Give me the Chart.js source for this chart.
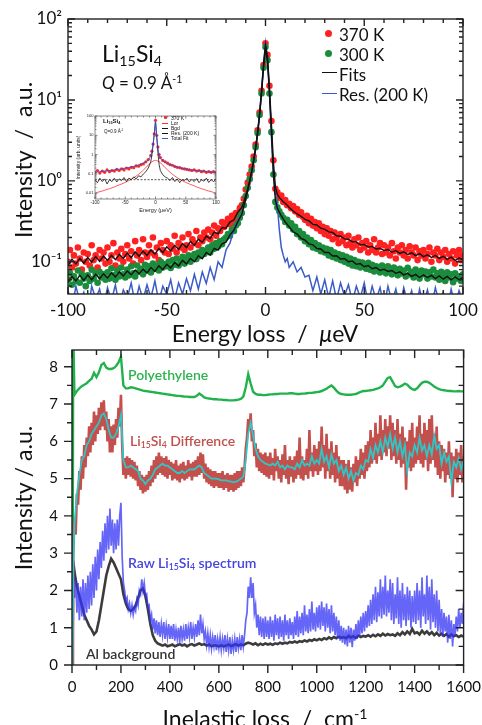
<!DOCTYPE html>
<html>
<head>
<meta charset="utf-8">
<script src="https://cdn.jsdelivr.net/npm/chart.js@4.4.0/dist/chart.umd.min.js"></script>
<style>
  body { margin: 0; background: #fff; }
  #wrap { position: relative; width: 482px; height: 725px; overflow: hidden; font-family: Lato, "Open Sans", sans-serif; color: #111; }
  canvas { position: absolute; }
  .t { position: absolute; white-space: pre; line-height: 1; transform: translate(0, -50%); }
  .c { transform: translate(-50%, -50%); }
  .r { transform: translate(-50%, -50%) rotate(-90deg); }
  sub { font-size: 0.62em; vertical-align: baseline; position: relative; top: 0.28em; }
  sup { font-size: 0.62em; vertical-align: baseline; position: relative; top: -0.55em; }
  .dot { position: absolute; border-radius: 50%; }
  .dash { position: absolute; height: 0; }
</style>
</head>
<body>
<div id="wrap">
  <canvas id="topChart" width="484" height="345" style="left:0;top:0"></canvas>
  <canvas id="insetChart" width="146" height="104" style="left:76px;top:110px"></canvas>
  <canvas id="bottomChart" width="494" height="399" style="left:0;top:326px"></canvas>

  <!-- top panel text -->
  <div class="t" style="left:102px;top:53px;font-size:23px">Li<sub>15</sub>Si<sub>4</sub></div>
  <div class="t" style="left:102px;top:82px;font-size:17px"><i>Q</i> = 0.9 Å<sup>-1</sup></div>
  <div class="dot" style="left:325px;top:30px;width:7px;height:7px;background:#ff2020"></div>
  <div class="t" style="left:339px;top:34px;font-size:17px">370 K</div>
  <div class="dot" style="left:325px;top:50px;width:7px;height:7px;background:#1a8c3c"></div>
  <div class="t" style="left:339px;top:54px;font-size:17px">300 K</div>
  <div class="dash" style="left:322px;top:72px;width:15px;border-top:1.5px solid #111"></div>
  <div class="t" style="left:339px;top:74px;font-size:17px">Fits</div>
  <div class="dash" style="left:322px;top:93px;width:15px;border-top:1.5px solid #3b5cc8"></div>
  <div class="t" style="left:339px;top:94px;font-size:17px">Res. (200 K)</div>
  <div class="t r" style="left:23px;top:160px;font-size:23px">Intensity  /  a.u.</div>
  <div class="t c" style="left:265px;top:333px;font-size:23px">Energy loss  /  <i>μ</i>eV</div>

  <!-- inset text -->
  <div class="t" style="left:103px;top:121px;font-size:6px;font-weight:700;font-family:'Liberation Sans'">Li<sub>15</sub>Si<sub>4</sub></div>
  <div class="t" style="left:104px;top:132px;font-size:4.5px;font-family:'Liberation Sans'">Q=0.9 Å<sup>-1</sup></div>
  <div class="dot" style="left:164px;top:116px;width:2.5px;height:2.5px;background:#ff2020"></div>
  <div class="t" style="left:171px;top:117.5px;font-size:5px;font-family:'Liberation Sans'">370 K</div>
  <div class="dash" style="left:162px;top:122.5px;width:6px;border-top:0.8px solid #ff3030"></div>
  <div class="t" style="left:171px;top:122.5px;font-size:5px;font-family:'Liberation Sans'">Lor</div>
  <div class="dash" style="left:162px;top:127.5px;width:6px;border-top:0.8px dashed #111"></div>
  <div class="t" style="left:171px;top:127.5px;font-size:5px;font-family:'Liberation Sans'">Bgd</div>
  <div class="dash" style="left:162px;top:132.5px;width:6px;border-top:0.8px solid #111"></div>
  <div class="t" style="left:171px;top:132.5px;font-size:5px;font-family:'Liberation Sans'">Res. (200 K)</div>
  <div class="dash" style="left:162px;top:137.5px;width:6px;border-top:0.8px solid #3b5cc8"></div>
  <div class="t" style="left:171px;top:137.5px;font-size:5px;font-family:'Liberation Sans'">Total Fit</div>

  <!-- bottom panel text -->
  <div class="t" style="left:128px;top:375px;font-size:14px;font-weight:600;color:#2bb350">Polyethylene</div>
  <div class="t" style="left:130px;top:441px;font-size:14px;font-weight:600;color:#c0504d">Li<sub>15</sub>Si<sub>4</sub> Difference</div>
  <div class="t" style="left:128px;top:563px;font-size:14px;font-weight:600;color:#4545e0">Raw Li<sub>15</sub>Si<sub>4</sub> spectrum</div>
  <div class="t" style="left:86px;top:654px;font-size:14px;font-weight:600;color:#333">Al background</div>
  <div class="t r" style="left:23px;top:498px;font-size:23px">Intensity / a.u.</div>
  <div class="t c" style="left:265px;top:718px;font-size:23px">Inelastic loss  /  cm<sup>-1</sup></div>
</div>
<script>
// ---- top panel: quasielastic spectra (energy in µeV) ----
// measured points, 1 µeV steps
const energyFine = [
  -100, -99, -98, -97, -96, -95, -94, -93, -92, -91,
  -90, -89, -88, -87, -86, -85, -84, -83, -82, -81,
  -80, -79, -78, -77, -76, -75, -74, -73, -72, -71,
  -70, -69, -68, -67, -66, -65, -64, -63, -62, -61,
  -60, -59, -58, -57, -56, -55, -54, -53, -52, -51,
  -50, -49, -48, -47, -46, -45, -44, -43, -42, -41,
  -40, -39, -38, -37, -36, -35, -34, -33, -32, -31,
  -30, -29, -28, -27, -26, -25, -24, -23, -22, -21,
  -20, -19, -18, -17, -16, -15, -14, -13, -12, -11,
  -10, -9, -8, -7, -6, -5, -4, -3, -2, -1,
  0, 1, 2, 3, 4, 5, 6, 7, 8, 9,
  10, 11, 12, 13, 14, 15, 16, 17, 18, 19,
  20, 21, 22, 23, 24, 25, 26, 27, 28, 29,
  30, 31, 32, 33, 34, 35, 36, 37, 38, 39,
  40, 41, 42, 43, 44, 45, 46, 47, 48, 49,
  50, 51, 52, 53, 54, 55, 56, 57, 58, 59,
  60, 61, 62, 63, 64, 65, 66, 67, 68, 69,
  70, 71, 72, 73, 74, 75, 76, 77, 78, 79,
  80, 81, 82, 83, 84, 85, 86, 87, 88, 89,
  90, 91, 92, 93, 94, 95, 96, 97, 98, 99,
  100
];
const hot370 = [
  0.1, 0.14, 0.085, 0.12, 0.095, 0.15, 0.11, 0.08, 0.13, 0.1,
  0.125, 0.09, 0.16, 0.105, 0.12, 0.085, 0.14, 0.11, 0.13, 0.095,
  0.15, 0.1, 0.12, 0.17, 0.09, 0.13, 0.11, 0.145, 0.1, 0.125,
  0.16, 0.11, 0.135, 0.095, 0.18, 0.12, 0.14, 0.105, 0.19, 0.13,
  0.115, 0.16, 0.13, 0.2, 0.12, 0.15, 0.105, 0.17, 0.14, 0.13,
  0.18, 0.125, 0.16, 0.145, 0.21, 0.13, 0.17, 0.15, 0.2, 0.14,
  0.16, 0.22, 0.15, 0.19, 0.17, 0.24, 0.16, 0.2, 0.18, 0.23,
  0.2, 0.25, 0.19, 0.23, 0.28, 0.21, 0.26, 0.24, 0.31, 0.27,
  0.3, 0.34, 0.29, 0.37, 0.33, 0.4, 0.38, 0.46, 0.5, 0.6,
  0.78, 0.95, 1.2, 1.5, 2.0, 2.8, 4.2, 7, 13, 27,
  50, 36, 15, 5.5, 1.8, 0.8, 0.72, 0.62, 0.66, 0.55,
  0.58, 0.5, 0.52, 0.46, 0.49, 0.42, 0.45, 0.38, 0.41, 0.36,
  0.33, 0.37, 0.3, 0.34, 0.28, 0.31, 0.26, 0.3, 0.24, 0.27,
  0.22, 0.26, 0.21, 0.24, 0.19, 0.23, 0.2, 0.17, 0.22, 0.18,
  0.2, 0.16, 0.21, 0.17, 0.15, 0.19, 0.16, 0.2, 0.14, 0.17,
  0.15, 0.18, 0.13, 0.16, 0.14, 0.19, 0.13, 0.15, 0.17, 0.125,
  0.16, 0.13, 0.15, 0.12, 0.17, 0.135, 0.11, 0.15, 0.13, 0.16,
  0.12, 0.14, 0.11, 0.155, 0.13, 0.12, 0.15, 0.105, 0.135, 0.12,
  0.14, 0.11, 0.125, 0.15, 0.1, 0.13, 0.12, 0.145, 0.105, 0.13,
  0.115, 0.14, 0.1, 0.125, 0.11, 0.135, 0.095, 0.12, 0.14, 0.105,
  0.12
];
const cold300 = [
  0.06, 0.072, 0.052, 0.066, 0.058, 0.078, 0.055, 0.07, 0.062, 0.05,
  0.068, 0.058, 0.08, 0.062, 0.072, 0.055, 0.075, 0.064, 0.07, 0.06,
  0.074, 0.062, 0.083, 0.068, 0.06, 0.078, 0.066, 0.085, 0.07, 0.064,
  0.08, 0.068, 0.088, 0.072, 0.066, 0.09, 0.075, 0.082, 0.07, 0.092,
  0.078, 0.088, 0.074, 0.095, 0.082, 0.09, 0.078, 0.1, 0.085, 0.094,
  0.088, 0.1, 0.084, 0.105, 0.092, 0.11, 0.09, 0.1, 0.115, 0.095,
  0.105, 0.12, 0.1, 0.115, 0.125, 0.108, 0.13, 0.118, 0.14, 0.125,
  0.135, 0.15, 0.13, 0.16, 0.145, 0.17, 0.155, 0.18, 0.165, 0.19,
  0.2, 0.22, 0.21, 0.25, 0.24, 0.28, 0.3, 0.35, 0.4, 0.5,
  0.65, 0.82, 1.05, 1.35, 1.8, 2.6, 3.9, 6.5, 12, 25,
  45, 31, 12, 4, 1.2, 0.55, 0.47, 0.42, 0.38, 0.35,
  0.31, 0.33, 0.28, 0.3, 0.25, 0.27, 0.22, 0.24, 0.2, 0.22,
  0.18, 0.2, 0.165, 0.185, 0.15, 0.17, 0.145, 0.16, 0.135, 0.15,
  0.13, 0.145, 0.12, 0.14, 0.115, 0.13, 0.11, 0.125, 0.105, 0.12,
  0.1, 0.115, 0.095, 0.11, 0.09, 0.105, 0.088, 0.1, 0.085, 0.098,
  0.09, 0.082, 0.097, 0.08, 0.092, 0.076, 0.088, 0.082, 0.074, 0.09,
  0.08, 0.072, 0.088, 0.076, 0.07, 0.085, 0.074, 0.068, 0.082, 0.072,
  0.078, 0.066, 0.084, 0.07, 0.075, 0.064, 0.08, 0.07, 0.062, 0.078,
  0.07, 0.076, 0.062, 0.074, 0.066, 0.08, 0.064, 0.072, 0.06, 0.075,
  0.068, 0.058, 0.074, 0.064, 0.07, 0.056, 0.072, 0.062, 0.066, 0.058,
  0.07
];
// fit and resolution curves
const energy = [
  -100, -98, -96, -94, -92, -90, -88, -86, -84, -82,
  -80, -78, -76, -74, -72, -70, -68, -66, -64, -62,
  -60, -58, -56, -54, -52, -50, -48, -46, -44, -42,
  -40, -38, -36, -34, -32, -30, -28, -26, -24, -22,
  -20, -18, -16, -14, -12,
  -11, -10, -9, -8, -7, -6, -5, -4, -3, -2, -1,
  0,
  1, 2, 3, 4, 5, 6, 7, 8, 9, 10, 11,
  12, 14, 16, 18, 20,
  22, 24, 26, 28, 30, 32, 34, 36, 38, 40,
  42, 44, 46, 48, 50, 52, 54, 56, 58, 60,
  62, 64, 66, 68, 70, 72, 74, 76, 78, 80,
  82, 84, 86, 88, 90, 92, 94, 96, 98, 100
];
const fit370 = [
  0.09, 0.108, 0.094, 0.11, 0.096, 0.113, 0.099, 0.116, 0.101, 0.118,
  0.104, 0.12, 0.106, 0.124, 0.11, 0.128, 0.113, 0.133, 0.117, 0.136,
  0.12, 0.14, 0.124, 0.146, 0.13, 0.153, 0.136, 0.16, 0.142, 0.168,
  0.15, 0.178, 0.16, 0.19, 0.174, 0.208, 0.193, 0.232, 0.222, 0.265,
  0.26, 0.31, 0.33, 0.41, 0.47,
  0.55, 0.66, 0.8, 1.0, 1.3, 1.8, 2.6, 4.0, 6.8, 13, 27,
  48,
  34, 14, 5, 1.7, 0.85, 0.68, 0.62, 0.59, 0.55, 0.53, 0.5,
  0.47, 0.425, 0.39, 0.365, 0.335,
  0.32, 0.29, 0.285, 0.26, 0.252, 0.234, 0.23, 0.21, 0.207, 0.192,
  0.19, 0.176, 0.176, 0.162, 0.164, 0.152, 0.155, 0.144, 0.147, 0.138,
  0.142, 0.131, 0.138, 0.127, 0.133, 0.123, 0.129, 0.119, 0.126, 0.116,
  0.122, 0.113, 0.12, 0.11, 0.117, 0.107, 0.114, 0.104, 0.111, 0.106
];
const fit300 = [
  0.056, 0.066, 0.058, 0.068, 0.059, 0.069, 0.06, 0.07, 0.062, 0.071,
  0.063, 0.073, 0.065, 0.075, 0.067, 0.077, 0.069, 0.079, 0.071, 0.081,
  0.073, 0.085, 0.076, 0.089, 0.08, 0.093, 0.084, 0.098, 0.089, 0.104,
  0.094, 0.11, 0.1, 0.119, 0.109, 0.13, 0.121, 0.146, 0.139, 0.167,
  0.175, 0.215, 0.245, 0.315, 0.385,
  0.48, 0.6, 0.76, 0.98, 1.3, 1.75, 2.5, 3.8, 6.5, 12, 25,
  44,
  30, 12, 4, 1.2, 0.58, 0.46, 0.41, 0.37, 0.34, 0.31, 0.29,
  0.27, 0.235, 0.22, 0.195, 0.185,
  0.166, 0.162, 0.146, 0.144, 0.13, 0.13, 0.118, 0.119, 0.108, 0.11,
  0.1, 0.102, 0.093, 0.095, 0.087, 0.09, 0.082, 0.085, 0.078, 0.081,
  0.076, 0.078, 0.072, 0.075, 0.069, 0.072, 0.066, 0.07, 0.064, 0.069,
  0.064, 0.068, 0.062, 0.067, 0.061, 0.066, 0.06, 0.065, 0.06, 0.064
];
const res200 = [
  0.045, 0.026, 0.05, 0.032, 0.042, 0.024, 0.05, 0.035, 0.046, 0.027,
  0.048, 0.033, 0.052, 0.028, 0.045, 0.036, 0.055, 0.03, 0.05, 0.034,
  0.052, 0.036, 0.058, 0.032, 0.05, 0.04, 0.06, 0.034, 0.055, 0.04,
  0.062, 0.044, 0.07, 0.046, 0.075, 0.054, 0.085, 0.06, 0.1, 0.085,
  0.14, 0.17, 0.25, 0.3, 0.4,
  0.48, 0.6, 0.75, 0.95, 1.25, 1.7, 2.5, 3.8, 6.5, 13, 28,
  50,
  32, 13, 3.5, 1.3, 0.7, 0.5, 0.25, 0.15, 0.12, 0.1, 0.11,
  0.085, 0.1, 0.075, 0.085, 0.065,
  0.068, 0.044, 0.065, 0.04, 0.06, 0.036, 0.058, 0.034, 0.055, 0.038,
  0.052, 0.032, 0.05, 0.036, 0.055, 0.03, 0.05, 0.034, 0.048, 0.028,
  0.05, 0.032, 0.046, 0.027, 0.048, 0.031, 0.044, 0.025, 0.046, 0.03,
  0.045, 0.027, 0.048, 0.031, 0.042, 0.025, 0.046, 0.029, 0.044, 0.033
];
const energyTicks = [-100, -50, 0, 50, 100];
const intensityTicks = [0.1, 1, 10, 100];
const intensityLabels = ['10⁻¹', '10⁰', '10¹', '10²'];

// ---- inset: 370 K fit components ----
const insetEnergy = [
  -100, -96, -92, -88, -84, -80, -76, -72, -68, -64, -60, -56, -52, -48, -44, -40, -36, -32, -28, -24, -20, -16, -12, -8,
  -6, -4, -2, 0, 2, 4, 6,
  8, 12, 16, 20, 24, 28, 32, 36, 40, 44, 48, 52, 56, 60, 64, 68, 72, 76, 80, 84, 88, 92, 96, 100
];
const inset370 = [
  0.12, 0.15, 0.11, 0.14, 0.12, 0.16, 0.13, 0.15, 0.14, 0.17, 0.15, 0.18, 0.16, 0.2, 0.18, 0.22, 0.21, 0.26, 0.25, 0.3, 0.33, 0.42, 0.55, 0.9,
  1.5, 3.5, 12, 60, 10, 2.5, 1.0,
  0.7, 0.5, 0.42, 0.36, 0.3, 0.28, 0.24, 0.22, 0.21, 0.19, 0.18, 0.17, 0.16, 0.15, 0.16, 0.14, 0.15, 0.13, 0.14, 0.12, 0.13, 0.12, 0.13, 0.12
];
const insetLor = [
  0.01, 0.011, 0.012, 0.013, 0.014, 0.016, 0.017, 0.019, 0.021, 0.024, 0.027, 0.03, 0.034, 0.039, 0.045, 0.053, 0.063, 0.077, 0.095, 0.12, 0.16, 0.21, 0.29, 0.38,
  0.42, 0.46, 0.49, 0.5, 0.49, 0.46, 0.42,
  0.38, 0.29, 0.21, 0.16, 0.12, 0.095, 0.077, 0.063, 0.053, 0.045, 0.039, 0.034, 0.03, 0.027, 0.024, 0.021, 0.019, 0.017, 0.016, 0.014, 0.013, 0.012, 0.011, 0.01
];
const insetRes = [
  0.05, 0.035, 0.06, 0.04, 0.055, 0.03, 0.05, 0.04, 0.06, 0.038, 0.055, 0.045, 0.065, 0.04, 0.06, 0.05, 0.07, 0.055, 0.08, 0.07, 0.1, 0.13, 0.2, 0.4,
  0.9, 3, 12, 55, 8, 1.2, 0.3,
  0.15, 0.09, 0.07, 0.06, 0.045, 0.065, 0.04, 0.055, 0.035, 0.05, 0.045, 0.06, 0.038, 0.052, 0.04, 0.058, 0.035, 0.05, 0.042, 0.06, 0.036, 0.05, 0.04, 0.055
];
const insetTotal = [
  0.12, 0.125, 0.13, 0.135, 0.14, 0.145, 0.15, 0.155, 0.16, 0.17, 0.175, 0.185, 0.195, 0.205, 0.215, 0.23, 0.245, 0.265, 0.29, 0.32, 0.36, 0.42, 0.52, 0.8,
  1.4, 3.4, 12, 55, 9, 2.3, 0.95,
  0.65, 0.48, 0.4, 0.34, 0.3, 0.27, 0.245, 0.225, 0.21, 0.195, 0.185, 0.175, 0.165, 0.16, 0.155, 0.15, 0.145, 0.14, 0.135, 0.13, 0.128, 0.125, 0.122, 0.12
];
const bgdEnergy = [-100, 100];
const bgdLevel = [0.05, 0.05];
const insetYTicks = [0.01, 0.1, 1, 10, 100];

// ---- bottom panel: vibrational spectra (cm^-1) ----
// noisy spectra, 5 cm^-1 steps
const wavenumberFine = [
  2, 4,
  5, 10, 15, 20, 25, 30, 35, 40, 45, 50, 55, 60, 65, 70, 75, 80, 85, 90, 95, 100,
  105, 110, 115, 120, 125, 130, 135, 140, 145, 150, 155, 160, 165, 170, 175, 180, 185, 190, 195, 200,
  205, 210, 215, 220, 225, 230, 235, 240, 245, 250, 255, 260, 265, 270, 275, 280, 285, 290, 295, 300,
  305, 310, 315, 320, 325, 330, 335, 340, 345, 350, 355, 360, 365, 370, 375, 380, 385, 390, 395, 400,
  405, 410, 415, 420, 425, 430, 435, 440, 445, 450, 455, 460, 465, 470, 475, 480, 485, 490, 495, 500,
  505, 510, 515, 520, 525, 530, 535, 540, 545, 550, 555, 560, 565, 570, 575, 580, 585, 590, 595, 600,
  605, 610, 615, 620, 625, 630, 635, 640, 645, 650, 655, 660, 665, 670, 675, 680, 685, 690, 695, 700,
  705, 710, 715, 720, 725, 730, 735, 740, 745, 750, 755, 760, 765, 770, 775, 780, 785, 790, 795, 800,
  805, 810, 815, 820, 825, 830, 835, 840, 845, 850, 855, 860, 865, 870, 875, 880, 885, 890, 895, 900,
  905, 910, 915, 920, 925, 930, 935, 940, 945, 950, 955, 960, 965, 970, 975, 980, 985, 990, 995, 1000,
  1005, 1010, 1015, 1020, 1025, 1030, 1035, 1040, 1045, 1050, 1055, 1060, 1065, 1070, 1075, 1080, 1085, 1090, 1095, 1100,
  1105, 1110, 1115, 1120, 1125, 1130, 1135, 1140, 1145, 1150, 1155, 1160, 1165, 1170, 1175, 1180, 1185, 1190, 1195, 1200,
  1205, 1210, 1215, 1220, 1225, 1230, 1235, 1240, 1245, 1250, 1255, 1260, 1265, 1270, 1275, 1280, 1285, 1290, 1295, 1300,
  1305, 1310, 1315, 1320, 1325, 1330, 1335, 1340, 1345, 1350, 1355, 1360, 1365, 1370, 1375, 1380, 1385, 1390, 1395, 1400,
  1405, 1410, 1415, 1420, 1425, 1430, 1435, 1440, 1445, 1450, 1455, 1460, 1465, 1470, 1475, 1480, 1485, 1490, 1495, 1500,
  1505, 1510, 1515, 1520, 1525, 1530, 1535, 1540, 1545, 1550, 1555, 1560, 1565, 1570, 1575, 1580, 1585, 1590, 1595, 1600
];
const difference = [
  0, 2.5,
  3.0, 3.9, 3.5, 4.6, 4.3, 5.2, 4.7, 5.6, 5.0, 5.9, 5.3, 6.1, 5.6, 6.4, 5.7, 6.5, 5.9, 6.8, 6.0, 6.7,
  6.2, 6.9, 6.3, 7.05, 6.4, 7.1, 6.3, 6.8, 6.0, 6.6, 5.7, 6.4, 5.7, 6.45, 5.9, 6.6, 6.1, 6.9, 6.4, 7.25,
  5.9, 5.1, 5.55, 5.0, 5.6, 5.1, 5.55, 5.05, 5.5, 5.0, 5.45, 4.95, 5.35, 4.8, 5.2, 4.7, 5.1, 4.6, 5.05, 4.65,
  5.1, 4.7, 5.2, 4.8, 5.35, 4.9, 5.5, 5.0, 5.6, 5.1, 5.7, 5.15, 5.6, 5.1, 5.55, 5.05, 5.6, 5.0, 5.5, 5.1,
  5.45, 4.95, 5.4, 5.0, 5.5, 4.95, 5.35, 4.9, 5.4, 5.0, 5.45, 4.95, 5.35, 5.0, 5.5, 5.05, 5.4, 4.95, 5.45, 5.05,
  5.5, 5.05, 5.6, 5.1, 5.7, 5.15, 5.65, 5.0, 5.4, 4.9, 5.3, 4.85, 5.25, 4.8, 5.2, 4.75, 5.2, 4.8, 5.15, 4.75,
  5.15, 4.75, 5.2, 4.7, 5.1, 4.75, 5.15, 4.65, 5.1, 4.7, 5.1, 4.65, 5.15, 4.7, 5.2, 4.75, 5.2, 4.8, 5.3, 4.9,
  5.3, 5.8, 6.1, 6.6, 6.3, 6.75, 6.0, 6.3, 5.6, 5.95, 5.3, 5.8, 5.2, 5.7, 5.15, 5.65, 5.1, 5.7, 5.05, 5.6,
  5.0, 5.7, 5.1, 5.55, 4.95, 5.8, 5.2, 5.6, 5.0, 5.5, 4.9, 5.65, 5.1, 5.9, 5.0, 5.5, 4.85, 5.6, 5.05, 5.5,
  4.9, 5.6, 5.0, 5.75, 5.1, 6.1, 5.0, 5.6, 4.95, 5.5, 5.1, 5.8, 5.0, 6.3, 5.2, 5.7, 5.05, 5.9, 5.2, 5.8,
  5.1, 6.0, 5.2, 6.4, 5.3, 5.9, 5.0, 6.2, 5.2, 5.8, 5.0, 6.0, 5.1, 5.7, 4.9, 5.9, 5.0, 5.6, 4.8, 5.5,
  4.8, 5.5, 4.7, 5.4, 4.6, 5.5, 4.7, 5.3, 4.65, 5.4, 4.9, 5.6, 4.8, 5.5, 5.0, 5.8, 5.1, 5.7, 5.0, 5.9,
  5.2, 6.0, 5.3, 6.3, 5.4, 6.1, 5.5, 6.5, 5.4, 6.2, 5.6, 6.7, 5.5, 6.3, 5.7, 6.6, 5.6, 6.4, 5.8, 6.7,
  5.5, 6.5, 5.6, 6.3, 5.4, 6.6, 5.5, 6.2, 5.3, 6.4, 5.4, 6.1, 4.7, 6.0, 5.3, 6.3, 5.2, 6.5, 5.3, 6.1,
  5.4, 6.4, 5.5, 6.7, 5.4, 6.2, 5.3, 6.5, 5.5, 6.3, 5.2, 6.6, 5.4, 6.7, 5.5, 6.2, 5.3, 6.4, 5.1, 6.0,
  5.0, 5.9, 5.2, 5.8, 4.9, 5.7, 5.1, 6.0, 5.0, 5.7, 4.5, 5.6, 5.0, 5.8, 4.9, 5.7, 5.1, 5.9, 4.9, 5.6
];
const rawSpectrum = [
  0, 9,
  2.7, 1.8, 2.3, 1.4, 2.2, 1.2, 2.1, 1.3, 2.3, 1.2, 2.2, 1.4, 2.4, 1.5, 2.5, 1.6, 2.7, 1.8, 2.9, 2.0,
  3.1, 2.3, 3.3, 2.6, 3.6, 2.8, 3.8, 3.0, 4.0, 3.1, 4.2, 3.2, 3.9, 3.0, 3.8, 3.1, 3.9, 3.2, 4.0, 4.35,
  2.9, 2.2, 2.0, 1.7, 1.8, 1.5, 1.65, 1.4, 1.6, 1.35, 1.55, 1.45, 1.75, 1.6, 2.0, 1.9, 2.3, 2.0, 2.2, 1.85,
  1.9, 1.55, 1.6, 1.2, 1.35, 0.95, 1.25, 0.85, 1.2, 0.8, 1.15, 0.75, 1.1, 0.8, 1.15, 0.7, 1.05, 0.75, 1.1, 0.7,
  1.05, 0.7, 1.1, 0.65, 0.95, 0.7, 1.0, 0.6, 1.05, 0.7, 0.95, 0.65, 1.1, 0.7, 1.0, 0.75, 1.15, 0.7, 1.0, 0.75,
  1.1, 0.75, 1.2, 0.8, 1.35, 0.85, 1.1, 0.7, 0.9, 0.55, 0.85, 0.5, 0.8, 0.45, 0.75, 0.5, 0.8, 0.4, 0.7, 0.45,
  0.75, 0.4, 0.7, 0.45, 0.8, 0.35, 0.7, 0.4, 0.75, 0.3, 0.65, 0.4, 0.7, 0.35, 0.75, 0.45, 0.7, 0.4, 0.8, 0.5,
  0.8, 1.2, 1.4, 2.1, 1.8, 2.35, 1.8, 2.2, 1.4, 1.6, 1.0, 1.35, 0.8, 1.3, 0.75, 1.25, 0.7, 1.3, 0.75, 1.2,
  0.7, 1.3, 0.75, 1.2, 0.65, 1.35, 0.8, 1.25, 0.7, 1.3, 0.75, 1.2, 0.65, 1.35, 0.8, 1.2, 0.7, 1.25, 0.8, 1.15,
  0.7, 1.3, 0.8, 1.45, 0.75, 1.3, 0.85, 1.4, 0.8, 1.6, 0.9, 1.35, 0.85, 1.5, 0.9, 1.7, 0.95, 1.4, 0.9, 1.55,
  1.0, 1.6, 0.95, 1.7, 1.05, 1.55, 0.9, 1.65, 1.0, 1.5, 0.85, 1.6, 0.9, 1.4, 0.8, 1.3, 0.7, 1.2, 0.65, 1.05,
  0.6, 1.0, 0.55, 0.95, 0.5, 1.05, 0.6, 1.0, 0.48, 0.95, 0.65, 1.1, 0.7, 1.2, 0.75, 1.3, 0.85, 1.4, 0.9, 1.45,
  1.0, 1.6, 1.05, 1.75, 1.1, 1.9, 1.2, 2.1, 1.15, 1.95, 1.3, 2.3, 1.25, 2.1, 1.35, 2.4, 1.3, 2.0, 1.4, 2.3,
  1.2, 2.2, 1.1, 1.9, 1.25, 2.35, 1.1, 2.0, 1.0, 2.2, 1.2, 1.9, 1.05, 2.1, 1.2, 2.0, 1.0, 1.85, 1.15, 2.0,
  1.1, 2.2, 1.2, 2.0, 1.0, 2.35, 1.3, 1.9, 1.1, 2.4, 1.2, 2.1, 0.95, 2.3, 1.15, 1.9, 1.0, 2.0, 0.9, 1.75,
  0.85, 1.5, 0.75, 1.4, 0.9, 1.3, 0.6, 1.35, 0.7, 1.2, 0.5, 1.1, 0.8, 1.3, 0.9, 1.5, 1.0, 1.4, 1.1, 1.65
];
// smoother spectra, 10 cm^-1 steps
const wavenumber = [
  2, 5,
  10, 20, 30, 40, 50, 60, 70, 80, 90, 100,
  110, 120, 130, 140, 150, 160, 170, 180, 190, 200,
  210, 220, 230, 240, 250, 260, 270, 280, 290, 300,
  310, 320, 330, 340, 350, 360, 370, 380, 390, 400,
  410, 420, 430, 440, 450, 460, 470, 480, 490, 500,
  510, 520, 530, 540, 550, 560, 570, 580, 590, 600,
  610, 620, 630, 640, 650, 660, 670, 680, 690, 700,
  710, 720, 730, 740, 750, 760, 770, 780, 790, 800,
  810, 820, 830, 840, 850, 860, 870, 880, 890, 900,
  910, 920, 930, 940, 950, 960, 970, 980, 990, 1000,
  1010, 1020, 1030, 1040, 1050, 1060, 1070, 1080, 1090, 1100,
  1110, 1120, 1130, 1140, 1150, 1160, 1170, 1180, 1190, 1200,
  1210, 1220, 1230, 1240, 1250, 1260, 1270, 1280, 1290, 1300,
  1310, 1320, 1330, 1340, 1350, 1360, 1370, 1380, 1390, 1400,
  1410, 1420, 1430, 1440, 1450, 1460, 1470, 1480, 1490, 1500,
  1510, 1520, 1530, 1540, 1550, 1560, 1570, 1580, 1590, 1600
];
const polyethylene = [
  0, 9,
  7.25, 7.35, 7.42, 7.48, 7.52, 7.56, 7.62, 7.68, 7.84, 7.72,
  7.85, 8.05, 8.1, 7.98, 7.94, 7.94, 7.96, 8.02, 8.12, 8.27,
  7.5, 7.42, 7.42, 7.45, 7.44, 7.42, 7.4, 7.38, 7.36, 7.35,
  7.34, 7.33, 7.32, 7.31, 7.3, 7.29, 7.28, 7.27, 7.26, 7.25,
  7.24, 7.23, 7.22, 7.22, 7.21, 7.2, 7.2, 7.19, 7.19, 7.19,
  7.22, 7.28, 7.24, 7.18, 7.16, 7.15, 7.14, 7.13, 7.13, 7.12,
  7.12, 7.11, 7.11, 7.1, 7.1, 7.1, 7.11, 7.12, 7.14, 7.2,
  7.45, 7.8, 7.55, 7.33, 7.27, 7.25, 7.25, 7.24, 7.24, 7.25,
  7.26, 7.26, 7.27, 7.27, 7.28, 7.28, 7.28, 7.28, 7.29, 7.29,
  7.28, 7.27, 7.27, 7.28, 7.28, 7.29, 7.3, 7.3, 7.31, 7.32,
  7.33, 7.35, 7.38, 7.41, 7.46, 7.5, 7.44, 7.36, 7.3, 7.27,
  7.26, 7.25, 7.25, 7.25, 7.26, 7.27, 7.3, 7.33, 7.35, 7.35,
  7.36, 7.37, 7.38, 7.4, 7.42, 7.45, 7.5, 7.6, 7.7, 7.72,
  7.6, 7.48, 7.45, 7.47, 7.5, 7.55, 7.52, 7.45, 7.4, 7.38,
  7.42, 7.5, 7.57, 7.6, 7.6, 7.57, 7.52, 7.47, 7.43, 7.4,
  7.38, 7.37, 7.36, 7.35, 7.35, 7.34, 7.34, 7.35, 7.34, 7.34
];
const smoothed = [
  0, 2.5,
  3.8, 4.6, 5.1, 5.5, 5.6, 5.9, 6.0, 6.2, 6.3, 6.4,
  6.5, 6.7, 6.75, 6.6, 6.3, 6.1, 6.1, 6.2, 6.4, 6.7,
  5.5, 5.3, 5.3, 5.35, 5.3, 5.25, 5.2, 5.0, 4.95, 4.85,
  4.95, 5.0, 5.1, 5.25, 5.3, 5.35, 5.4, 5.35, 5.35, 5.3,
  5.25, 5.2, 5.15, 5.15, 5.2, 5.15, 5.2, 5.25, 5.25, 5.25,
  5.3, 5.35, 5.3, 5.15, 5.1, 5.05, 5.0, 5.0, 5.0, 4.98,
  4.95, 4.95, 4.95, 4.93, 4.92, 4.9, 4.92, 4.95, 5.0, 5.05,
  5.5, 6.2, 6.5, 6.15, 5.8, 5.6, 5.5, 5.45, 5.4, 5.38,
  5.35, 5.4, 5.35, 5.45, 5.3, 5.35, 5.25, 5.35, 5.3, 5.3,
  5.25, 5.4, 5.3, 5.5, 5.35, 5.4, 5.35, 5.6, 5.4, 5.5,
  5.4, 5.8, 5.45, 5.6, 5.3, 5.65, 5.4, 5.5, 5.2, 5.35,
  5.1, 5.3, 5.0, 5.2, 4.95, 5.15, 5.1, 5.35, 5.25, 5.5,
  5.45, 5.8, 5.55, 5.9, 5.7, 6.0, 5.7, 6.1, 5.85, 6.2,
  5.8, 6.1, 5.7, 6.0, 5.6, 5.9, 5.2, 5.7, 5.6, 5.9,
  5.7, 6.1, 5.75, 5.9, 5.6, 5.9, 5.65, 6.15, 5.8, 5.9,
  5.4, 5.7, 5.45, 5.6, 4.9, 5.45, 5.3, 5.55, 5.25, 5.5
];
const alBackground = [
  0, 2.8,
  2.5, 2.1, 1.85, 1.6, 1.35, 1.2, 1.05, 0.95, 0.82, 0.9,
  1.2, 1.6, 2.0, 2.4, 2.65, 2.85, 2.75, 2.6, 2.45, 2.3,
  1.9, 1.65, 1.5, 1.45, 1.5, 1.6, 1.8, 2.0, 2.05, 1.85,
  1.5, 1.1, 0.8, 0.65, 0.58, 0.55, 0.52, 0.55, 0.5, 0.52,
  0.55, 0.5, 0.53, 0.56, 0.52, 0.55, 0.5, 0.54, 0.56, 0.52,
  0.55, 0.58, 0.54, 0.56, 0.52, 0.55, 0.5, 0.53, 0.52, 0.5,
  0.53, 0.5, 0.52, 0.55, 0.51, 0.53, 0.56, 0.52, 0.55, 0.53,
  0.57, 0.6, 0.58, 0.55, 0.58, 0.53, 0.57, 0.54, 0.58, 0.55,
  0.57, 0.54, 0.58, 0.56, 0.6, 0.57, 0.6, 0.58, 0.62, 0.6,
  0.63, 0.6, 0.64, 0.62, 0.66, 0.63, 0.67, 0.65, 0.69, 0.66,
  0.7, 0.67, 0.72, 0.69, 0.74, 0.7, 0.75, 0.72, 0.76, 0.73,
  0.75, 0.72, 0.78, 0.74, 0.77, 0.73, 0.79, 0.75, 0.78, 0.76,
  0.8, 0.76, 0.81, 0.77, 0.82, 0.78, 0.84, 0.79, 0.83, 0.8,
  0.82, 0.78, 0.85, 0.8, 0.88, 0.82, 0.9, 0.83, 0.97, 0.85,
  0.88, 0.82, 0.92, 0.84, 0.9, 0.82, 0.88, 0.8, 0.86, 0.79,
  0.84, 0.78, 0.83, 0.76, 0.82, 0.77, 0.8, 0.75, 0.79, 0.76
];
const wavenumberTicks = [0, 200, 400, 600, 800, 1000, 1200, 1400, 1600];
const countTicks = [0, 1, 2, 3, 4, 5, 6, 7, 8];

const pts = (xs, ys) => xs.map((x, i) => ({ x: x, y: ys[i] }));
const between = (from, to, step) => { const out = []; for (let v = from; v <= to + 1e-9; v += step) out.push(+v.toFixed(3)); return out; };
const logMinor = (lo, hi) => { const out = []; for (let k = -3; k <= 2; k++) for (let m = 2; m <= 9; m++) { const v = m * Math.pow(10, k); if (v > lo && v < hi) out.push(v); } return out; };

// frame with tick marks on all four sides
function axisFrame(o) {
  return {
    id: 'axisFrame',
    afterDatasetsDraw(chart) {
      const { ctx, chartArea: a } = chart;
      const sx = chart.scales.x, sy = chart.scales.y;
      ctx.save();
      ctx.strokeStyle = o.color;
      ctx.lineWidth = o.width;
      ctx.beginPath();
      const markX = (v, len) => {
        const p = sx.getPixelForValue(v);
        ctx.moveTo(p, a.bottom); ctx.lineTo(p, o.outside ? a.bottom + len : a.bottom - len);
        ctx.moveTo(p, a.top); ctx.lineTo(p, a.top + len);
      };
      const markY = (v, len) => {
        const p = sy.getPixelForValue(v);
        ctx.moveTo(a.left, p); ctx.lineTo(o.outside ? a.left - len : a.left + len, p);
        ctx.moveTo(a.right, p); ctx.lineTo(a.right - len, p);
      };
      o.xMajor.forEach(v => markX(v, o.major));
      o.xMinor.forEach(v => markX(v, o.minor));
      o.yMajor.forEach(v => markY(v, o.major));
      o.yMinor.forEach(v => markY(v, o.minor));
      ctx.stroke();
      ctx.strokeRect(a.left, a.top, a.right - a.left, a.bottom - a.top);
      ctx.restore();
    }
  };
}

const base = {
  responsive: false,
  animation: false,
  events: [],
  plugins: { legend: { display: false }, tooltip: { enabled: false } }
};
const noGrid = { display: false, drawTicks: false };

// ---- top chart ----
new Chart(document.getElementById('topChart'), {
  type: 'scatter',
  data: {
    datasets: [
      { label: 'Fit 370 K', data: pts(energy, fit370), showLine: true, pointRadius: 0, borderColor: '#111', borderWidth: 1.4, order: 0 },
      { label: 'Fit 300 K', data: pts(energy, fit300), showLine: true, pointRadius: 0, borderColor: '#111', borderWidth: 1.4, order: 1 },
      { label: 'Res. (200 K)', data: pts(energy, res200), showLine: true, pointRadius: 0, borderColor: '#3b5cc8', borderWidth: 1.5, order: 2 },
      { label: '300 K', data: pts(energyFine, cold300), pointRadius: 3.3, borderWidth: 0, backgroundColor: '#1a8c3c', order: 3 },
      { label: '370 K', data: pts(energyFine, hot370), pointRadius: 3.3, borderWidth: 0, backgroundColor: '#ff2020', order: 4 }
    ]
  },
  options: {
    ...base,
    layout: { padding: { left: 0, right: 21, top: 19, bottom: 0 } },
    scales: {
      x: {
        type: 'linear', min: -100, max: 100,
        grid: noGrid, border: { display: false },
        afterBuildTicks: s => { s.ticks = energyTicks.map(v => ({ value: v })); },
        afterFit: s => { s.height = 51; },
        ticks: { autoSkip: false, maxRotation: 0, padding: 6, color: '#111', font: { family: 'Lato', size: 17 }, callback: v => String(v) }
      },
      y: {
        type: 'logarithmic', min: 0.04, max: 100,
        grid: noGrid, border: { display: false },
        afterBuildTicks: s => { s.ticks = intensityTicks.map(v => ({ value: v })); },
        afterFit: s => { s.width = 68; },
        ticks: { autoSkip: false, padding: 6, color: '#111', font: { family: 'Lato', size: 17 }, callback: (v, i) => intensityLabels[i] }
      }
    }
  },
  plugins: [axisFrame({
    color: '#222', width: 1.4, outside: false, major: 7, minor: 4,
    xMajor: energyTicks, xMinor: between(-90, 90, 10).filter(v => v % 50 !== 0),
    yMajor: intensityTicks, yMinor: logMinor(0.04, 100)
  })]
});

// ---- inset chart ----
new Chart(document.getElementById('insetChart'), {
  type: 'scatter',
  data: {
    datasets: [
      { label: 'Total Fit', data: pts(insetEnergy, insetTotal), showLine: true, pointRadius: 0, borderColor: '#3b4fd0', borderWidth: 0.9, order: 0 },
      { label: 'Res. (200 K)', data: pts(insetEnergy, insetRes), showLine: true, pointRadius: 0, borderColor: '#111', borderWidth: 0.8, order: 1 },
      { label: 'Bgd', data: pts(bgdEnergy, bgdLevel), showLine: true, pointRadius: 0, borderColor: '#111', borderWidth: 0.7, borderDash: [2, 1.5], order: 2 },
      { label: 'Lor', data: pts(insetEnergy, insetLor), showLine: true, pointRadius: 0, borderColor: '#ff3030', borderWidth: 0.8, order: 3 },
      { label: '370 K', data: pts(insetEnergy, inset370), pointRadius: 1.6, borderWidth: 0, backgroundColor: '#ff2a2a', order: 4 }
    ]
  },
  options: {
    ...base,
    layout: { padding: { left: 0, right: 6, top: 6, bottom: 0 } },
    scales: {
      x: {
        type: 'linear', min: -100, max: 100,
        grid: noGrid, border: { display: false },
        afterBuildTicks: s => { s.ticks = energyTicks.map(v => ({ value: v })); },
        afterFit: s => { s.height = 15; },
        title: { display: true, text: 'Energy (μeV)', padding: 0, color: '#222', font: { family: 'Liberation Sans', size: 5.5 } },
        ticks: { autoSkip: false, maxRotation: 0, padding: 1.5, color: '#222', font: { family: 'Liberation Sans', size: 4.5 }, callback: v => String(v) }
      },
      y: {
        type: 'logarithmic', min: 0.005, max: 100,
        grid: noGrid, border: { display: false },
        afterBuildTicks: s => { s.ticks = insetYTicks.map(v => ({ value: v })); },
        afterFit: s => { s.width = 19; },
        title: { display: true, text: 'Intensity (arb. units)', padding: 0, color: '#222', font: { family: 'Liberation Sans', size: 5 } },
        ticks: { autoSkip: false, padding: 1.5, color: '#222', font: { family: 'Liberation Sans', size: 4 }, callback: v => String(v) }
      }
    }
  },
  plugins: [axisFrame({
    color: '#555', width: 0.7, outside: false, major: 2.5, minor: 1.5,
    xMajor: energyTicks, xMinor: between(-90, 90, 10).filter(v => v % 50 !== 0),
    yMajor: insetYTicks, yMinor: logMinor(0.005, 100)
  })]
});

// ---- bottom chart ----
new Chart(document.getElementById('bottomChart'), {
  type: 'scatter',
  data: {
    datasets: [
      { label: 'Smoothed difference', data: pts(wavenumber, smoothed), showLine: true, pointRadius: 0, borderColor: '#2ec6c6', borderWidth: 1.8, order: 0 },
      { label: 'Li15Si4 Difference', data: pts(wavenumberFine, difference), showLine: true, pointRadius: 0, borderColor: '#c4504e', borderWidth: 2.6, order: 1 },
      { label: 'Polyethylene', data: pts(wavenumber, polyethylene), showLine: true, pointRadius: 0, borderColor: '#22b24c', borderWidth: 2.4, order: 2 },
      { label: 'Raw Li15Si4 spectrum', data: pts(wavenumberFine, rawSpectrum), showLine: true, pointRadius: 0, borderColor: 'rgba(50,50,245,0.75)', borderWidth: 1.7, order: 3 },
      { label: 'Al background', data: pts(wavenumber, alBackground), showLine: true, pointRadius: 0, borderColor: '#3c3c3c', borderWidth: 2.6, order: 4 }
    ]
  },
  options: {
    ...base,
    layout: { padding: { left: 0, right: 18, top: 24, bottom: 0 } },
    scales: {
      x: {
        type: 'linear', min: 0, max: 1600,
        grid: noGrid, border: { display: false },
        afterBuildTicks: s => { s.ticks = wavenumberTicks.map(v => ({ value: v })); },
        afterFit: s => { s.height = 60; },
        ticks: { autoSkip: false, maxRotation: 0, padding: 13, color: '#111', font: { family: 'Lato', size: 15 }, callback: v => String(v) }
      },
      y: {
        type: 'linear', min: 0, max: 8.45,
        grid: noGrid, border: { display: false },
        afterBuildTicks: s => { s.ticks = countTicks.map(v => ({ value: v })); },
        afterFit: s => { s.width = 72; },
        ticks: { autoSkip: false, padding: 14, color: '#111', font: { family: 'Lato', size: 15 }, callback: v => String(v) }
      }
    }
  },
  plugins: [axisFrame({
    color: '#222', width: 1.4, outside: true, major: 8, minor: 5,
    xMajor: wavenumberTicks, xMinor: between(100, 1500, 200),
    yMajor: countTicks, yMinor: between(0.5, 7.5, 1)
  })]
});
</script>
</body>
</html>
